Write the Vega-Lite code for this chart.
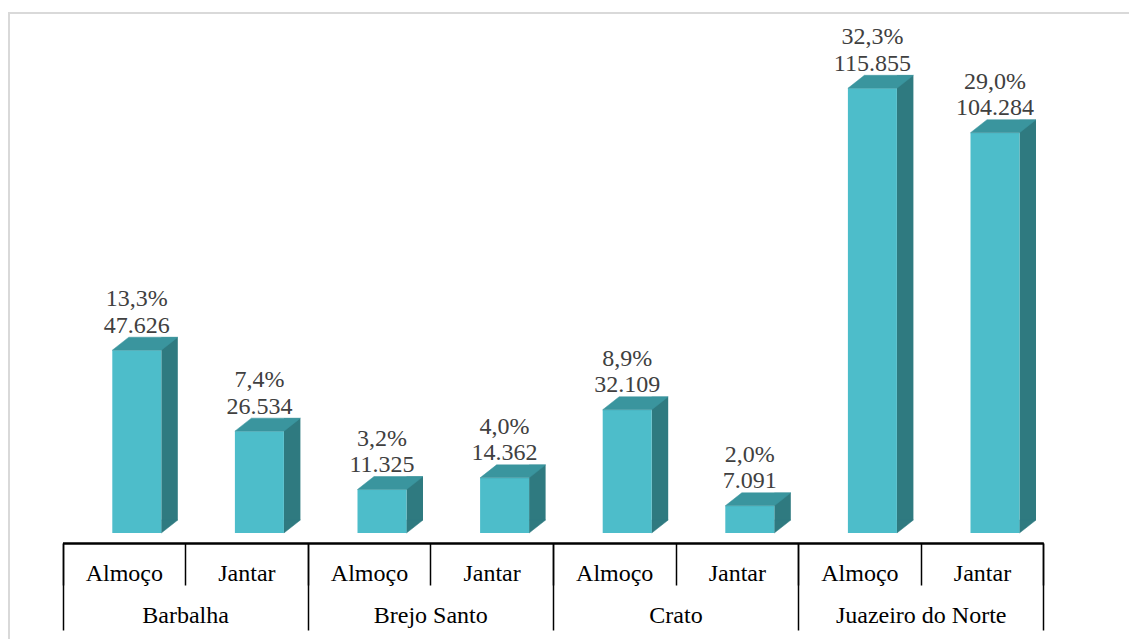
{
  "$schema": "https://vega.github.io/schema/vega-lite/v6.json",
  "width": 1124,
  "height": 630,
  "autosize": {"type": "none"},
  "padding": {"left": 9, "top": 13, "right": -4, "bottom": -4},
  "background": "white",
  "config": {"view": {"stroke": "#d9d9d9", "strokeWidth": 2}, "font": "Liberation Serif, Times New Roman, serif"},
  "data": {"values": [
    {"key": "Barbalha|Almoço", "city": "Barbalha", "meal": "Almoço", "value": 47626, "pct": "13,3%", "num": "47.626"},
    {"key": "Barbalha|Jantar", "city": "Barbalha", "meal": "Jantar", "value": 26534, "pct": "7,4%", "num": "26.534"},
    {"key": "Brejo Santo|Almoço", "city": "Brejo Santo", "meal": "Almoço", "value": 11325, "pct": "3,2%", "num": "11.325"},
    {"key": "Brejo Santo|Jantar", "city": "Brejo Santo", "meal": "Jantar", "value": 14362, "pct": "4,0%", "num": "14.362"},
    {"key": "Crato|Almoço", "city": "Crato", "meal": "Almoço", "value": 32109, "pct": "8,9%", "num": "32.109"},
    {"key": "Crato|Jantar", "city": "Crato", "meal": "Jantar", "value": 7091, "pct": "2,0%", "num": "7.091"},
    {"key": "Juazeiro do Norte|Almoço", "city": "Juazeiro do Norte", "meal": "Almoço", "value": 115855, "pct": "32,3%", "num": "115.855"},
    {"key": "Juazeiro do Norte|Jantar", "city": "Juazeiro do Norte", "meal": "Jantar", "value": 104284, "pct": "29,0%", "num": "104.284"}
  ]},
  "resolve": {"scale": {"x": "independent"}, "axis": {"x": "independent"}},
  "layer": [
    {
      "encoding": {
        "x": {
          "field": "key", "type": "nominal", "sort": null,
          "scale": {"type": "band", "range": [53.5, 1034.3], "paddingInner": 0, "paddingOuter": 0},
          "axis": {
            "orient": "bottom", "offset": -100, "title": null,
            "domainColor": "#000000", "domainWidth": 2.5,
            "tickBand": "extent", "tickSize": 42, "tickColor": "#000000", "tickWidth": 1.5,
            "labelExpr": "split(datum.label, '|')[1]",
            "labelFont": "Liberation Serif, Times New Roman, serif", "labelFontSize": 24, "labelColor": "#000000",
            "labelAngle": 0, "labelBaseline": "alphabetic", "labelPadding": -5,
            "labelOverlap": false, "grid": false
          }
        },
        "y": {
          "field": "value", "type": "quantitative",
          "scale": {"domain": [0, 115855], "range": [520, 75.3], "nice": false, "zero": true},
          "axis": null
        }
      },
      "layer": [
        {"mark": {"type": "bar", "width": 16.5, "xOffset": 45.75, "yOffset": -13, "y2Offset": -13, "color": "#2f7a80"}},
        {"mark": {"type": "point", "shape": "M0,0L16.5,-13L0,-13Z", "size": 4, "filled": true, "opacity": 1, "color": "#2f7a80", "stroke": "#2f7a80", "strokeWidth": 0.5, "xOffset": 37.5},
         "encoding": {"y": {"datum": 0, "type": "quantitative"}}},
        {"mark": {"type": "bar", "width": 49, "xOffset": 13, "color": "#4dbdca"}},
        {"mark": {"type": "point", "shape": "M0,0L49,0L65.5,-13L16.5,-13Z", "size": 4, "filled": true, "opacity": 1, "color": "#3a959e", "stroke": "#3a959e", "strokeWidth": 0.5, "xOffset": -11.5}},
        {"mark": {"type": "text", "xOffset": 13, "dy": -17.5, "baseline": "alphabetic", "fontSize": 24, "color": "#404040", "font": "Liberation Serif, Times New Roman, serif"},
         "encoding": {"text": {"field": "num"}}},
        {"mark": {"type": "text", "xOffset": 13, "dy": -44, "baseline": "alphabetic", "fontSize": 24, "color": "#404040", "font": "Liberation Serif, Times New Roman, serif"},
         "encoding": {"text": {"field": "pct"}}}
      ]
    },
    {
      "mark": {"type": "bar", "opacity": 0},
      "encoding": {
        "x": {
          "field": "city", "type": "nominal", "sort": null,
          "scale": {"type": "band", "range": [53.5, 1034.3], "paddingInner": 0, "paddingOuter": 0},
          "axis": {
            "orient": "bottom", "offset": -100, "title": null, "domain": false,
            "tickBand": "extent", "tickSize": 87, "tickColor": "#000000", "tickWidth": 1.5,
            "labelFont": "Liberation Serif, Times New Roman, serif", "labelFontSize": 24, "labelColor": "#000000",
            "labelAngle": 0, "labelBaseline": "alphabetic", "labelPadding": -8,
            "labelOverlap": false, "grid": false
          }
        },
        "y": {"field": "value", "type": "quantitative"}
      }
    }
  ]
}
